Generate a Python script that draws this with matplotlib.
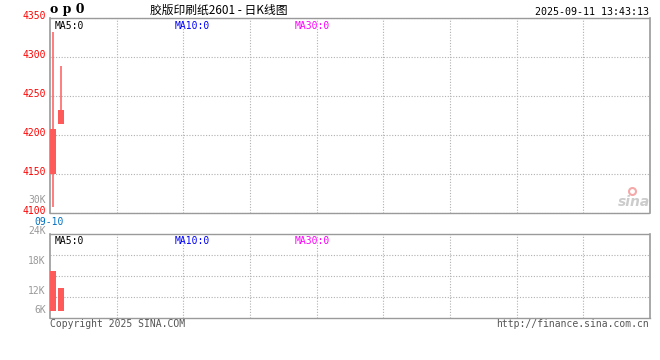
import matplotlib
matplotlib.use('Agg')
import matplotlib.pyplot as plt
import matplotlib.transforms as mtransforms
from matplotlib.lines import Line2D

dates = ['09-10', '09-11']
opens = [4150, 4215]
closes = [4208, 4232]
highs = [4333, 4289]
lows = [4108, 4215]
volumes = [15100, 11200]          # lots
vol_base = 6000
price_ticks = [4100, 4150, 4200, 4250, 4300, 4350]
vol_labels = ['24K', '18K', '12K', '6K']
ma_labels = ['MA5:0', 'MA10:0', 'MA30:0']
ma_colors = ['black', '#0000ff', '#ff00ff']

W, H = 660, 360
up = '#ff5a5a'
border = '#9a9a9a'
gridc = '#b0b0b0'
mono = 'DejaVu Sans Mono'

def fx(px):
    return px / W

def fy(py):
    return 1 - py / H

fig = plt.figure(figsize=(6.6, 3.6), dpi=100)
ax = fig.add_axes([fx(50), fy(213.3), 600 / W, 195 / H])
axv = fig.add_axes([fx(50), fy(317.7), 600 / W, 83.4 / H])

nslots = 75
xlim = (-0.375, nslots - 0.375)
vgrid = [xlim[0] + k * nslots / 9 for k in range(1, 9)]
x = list(range(len(dates)))

# candles
for i in x:
    ax.vlines(i, lows[i], highs[i], color=up, lw=1.1, zorder=3)
    ax.bar(i, closes[i] - opens[i], bottom=opens[i], width=0.75,
           color=up, zorder=4)
ax.set_xlim(*xlim)
ax.set_ylim(4100, 4350)
ax.set_yticks(price_ticks)
ax.set_yticklabels([])
# price labels sit a little above their grid line
lift = mtransforms.ScaledTranslation(0, 2.5 / 100, fig.dpi_scale_trans)
ytrans = ax.get_yaxis_transform() + lift
for t in price_ticks:
    ax.text(-0.007, t, str(t), transform=ytrans, ha='right', va='center',
            fontsize=7, family=mono, color='red', clip_on=False)
ax.set_xticks(vgrid)
ax.set_xticklabels([])

# volume
axv.bar(x, [v - vol_base for v in volumes], bottom=vol_base, width=0.75,
        color=up, zorder=4)
axv.set_xlim(*xlim)
v_lo, v_hi = 4490, 23260
axv.set_ylim(v_lo, v_hi)
axv.set_yticks([v_lo + (v_hi - v_lo) * k / 4 for k in (1, 2, 3)])
axv.set_yticklabels([])
axv.set_xticks(vgrid)
axv.set_xticklabels([])
for lab, yf in zip(vol_labels, [1.04, 0.68, 0.32, 0.09]):
    axv.text(-0.007, yf, lab, transform=axv.transAxes, ha='right',
             va='center', fontsize=7, family=mono, color='#999999',
             clip_on=False)

for a in (ax, axv):
    a.tick_params(length=0, pad=3)
    a.grid(True, color=gridc, ls=(0, (1, 1.5)), lw=0.8)
    a.set_axisbelow(True)
    for s in ('left', 'right'):
        a.spines[s].set_color(border)
        a.spines[s].set_linewidth(1.2)
    for s in ('top', 'bottom'):
        a.spines[s].set_color(border)
        a.spines[s].set_linestyle((0, (1, 1)))
        a.spines[s].set_linewidth(1.0)
    for lab, c, px in zip(ma_labels, ma_colors, [55, 175, 295]):
        a.text(fx(px - 50) * W / 600, 0.985, lab, transform=a.transAxes,
               ha='left', va='top', fontsize=7, family=mono, color=c)
axv.spines['bottom'].set_linestyle('-')

# header / footer texts
fig.text(fx(50), fy(10), 'o p 0', ha='left', va='center', fontsize=9,
         family='DejaVu Serif', weight='bold')
fig.text(fx(219), fy(10), '胶版印刷纸2601 - 日K线图', ha='center',
         va='center', fontsize=8.5, family=['Noto Sans CJK SC', 'DejaVu Sans'])
fig.text(fx(649), fy(12), '2025-09-11 13:43:13', ha='right', va='center',
         fontsize=7.2, family=mono)
fig.text(fx(46), fy(200), '30K', ha='right', va='center', fontsize=7,
         family=mono, color='#999999')
fig.text(fx(49), fy(222), dates[0], ha='center', va='center', fontsize=7,
         family=mono, color='#0070c0')
fig.text(fx(50), fy(324), 'Copyright 2025 SINA.COM', ha='left',
         va='center', fontsize=7, family=mono, color='#555555')
fig.text(fx(649), fy(324), 'http://finance.sina.com.cn', ha='right',
         va='center', fontsize=7, family=mono, color='#555555')

# sina watermark
fig.text(fx(650), fy(202), 'sina', ha='right', va='center', fontsize=10,
         style='italic', weight='bold', color='#cccccc')
fig.add_artist(Line2D([fx(632)], [fy(191)], marker='o', ms=5,
                      mfc='none', mec='#f4a8a8', mew=1.5,
                      transform=fig.transFigure))

fig.savefig('out.png', dpi=100)
